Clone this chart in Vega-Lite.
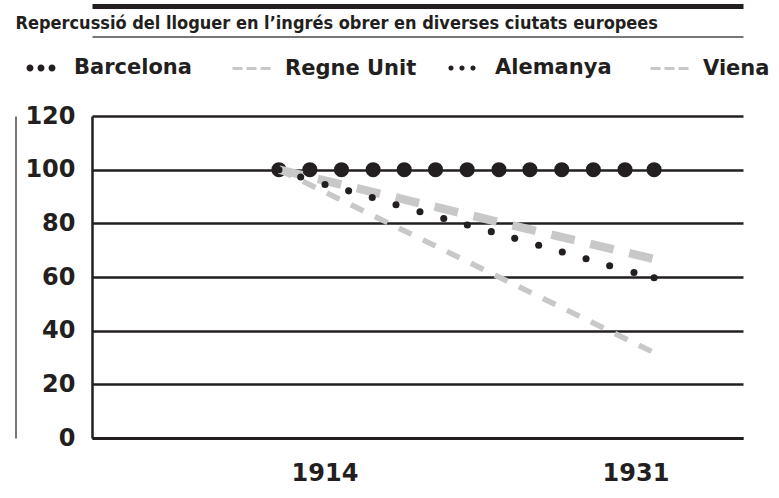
{
  "$schema": "https://vega.github.io/schema/vega-lite/v6.json",
  "width": 651,
  "height": 322,
  "autosize": {"type": "none"},
  "padding": {"left": 92, "top": 116, "right": 36, "bottom": 60},
  "background": "white",
  "title": {
    "text": "Repercussió del lloguer en l’ingrés obrer en diverses ciutats europees",
    "anchor": "start",
    "frame": "bounds",
    "font": "DejaVu Sans Condensed",
    "fontSize": 18,
    "fontWeight": "bold",
    "color": "#231f20",
    "offset": -27,
    "dx": 0
  },
  "config": {
    "view": {"stroke": null},
    "axis": {
      "labelFont": "DejaVu Sans",
      "labelFontWeight": "bold",
      "labelFontSize": 24,
      "labelColor": "#231f20",
      "domainColor": "#231f20",
      "ticks": false
    },
    "legend": {
      "orient": "none",
      "direction": "horizontal",
      "padding": 0,
      "symbolSize": 1600,
      "symbolOpacity": 1,
      "labelFont": "DejaVu Sans",
      "labelFontWeight": "bold",
      "labelFontSize": 21,
      "labelColor": "#231f20",
      "labelOffset": 12,
      "labelLimit": 300
    }
  },
  "resolve": {
    "scale": {"color": "independent"},
    "legend": {"color": "independent"},
    "axis": {"x": "independent", "y": "independent"}
  },
  "datasets": {
    "barcelona": [
      {"series": "Barcelona", "year": 1911.51, "value": 100},
      {"series": "Barcelona", "year": 1913.20, "value": 100},
      {"series": "Barcelona", "year": 1914.93, "value": 100},
      {"series": "Barcelona", "year": 1916.66, "value": 100},
      {"series": "Barcelona", "year": 1918.36, "value": 100},
      {"series": "Barcelona", "year": 1920.07, "value": 100},
      {"series": "Barcelona", "year": 1921.80, "value": 100},
      {"series": "Barcelona", "year": 1923.54, "value": 100},
      {"series": "Barcelona", "year": 1925.23, "value": 100},
      {"series": "Barcelona", "year": 1926.97, "value": 100},
      {"series": "Barcelona", "year": 1928.70, "value": 100},
      {"series": "Barcelona", "year": 1930.43, "value": 100},
      {"series": "Barcelona", "year": 1932.02, "value": 100}
    ],
    "regne": [
      {"series": "Regne Unit", "year": 1911.51, "value": 100},
      {"series": "Regne Unit", "year": 1931.96, "value": 66.8}
    ],
    "viena": [
      {"series": "Viena", "year": 1911.51, "value": 100},
      {"series": "Viena", "year": 1931.96, "value": 32}
    ],
    "alemanya": [
      {"series": "Alemanya", "year": 1911.51, "value": 100},
      {"series": "Alemanya", "year": 1912.70, "value": 97.3},
      {"series": "Alemanya", "year": 1914.03, "value": 94.5},
      {"series": "Alemanya", "year": 1915.32, "value": 92.1},
      {"series": "Alemanya", "year": 1916.61, "value": 89.6},
      {"series": "Alemanya", "year": 1917.91, "value": 86.9},
      {"series": "Alemanya", "year": 1919.22, "value": 84.3},
      {"series": "Alemanya", "year": 1920.52, "value": 81.8},
      {"series": "Alemanya", "year": 1921.81, "value": 79.4},
      {"series": "Alemanya", "year": 1923.12, "value": 76.9},
      {"series": "Alemanya", "year": 1924.40, "value": 74.4},
      {"series": "Alemanya", "year": 1925.71, "value": 71.8},
      {"series": "Alemanya", "year": 1927.00, "value": 69.3},
      {"series": "Alemanya", "year": 1928.30, "value": 66.8},
      {"series": "Alemanya", "year": 1929.59, "value": 64.2},
      {"series": "Alemanya", "year": 1930.92, "value": 61.7},
      {"series": "Alemanya", "year": 1932.02, "value": 59.7}
    ]
  },
  "layer": [
    {
      "data": {"name": "barcelona"},
      "mark": {"type": "circle", "size": 227, "opacity": 1},
      "encoding": {
        "x": {
          "field": "year",
          "type": "quantitative",
          "scale": {"domain": [1901.29, 1936.88], "nice": false, "zero": false},
          "axis": {
            "title": null,
            "values": [1914, 1931],
            "format": "d",
            "grid": false,
            "labelPadding": 23,
            "domainWidth": 3
          }
        },
        "y": {
          "field": "value",
          "type": "quantitative",
          "scale": {"domain": [0, 120], "nice": false},
          "axis": {
            "title": null,
            "values": [0, 20, 40, 60, 80, 100, 120],
            "grid": true,
            "gridColor": "#231f20",
            "gridWidth": 2.5,
            "gridOpacity": 1,
            "domainWidth": 2.5,
            "labelPadding": 17
          }
        },
        "color": {
          "field": "series",
          "type": "nominal",
          "scale": {"domain": ["Barcelona"], "range": ["#231f20"]},
          "legend": {
            "title": null,
            "legendX": -72,
            "legendY": -69,
            "symbolType": "M-0.725,0a0.175,0.175 0 1,0 0.35,0a0.175,0.175 0 1,0 -0.35,0Z M-0.175,0a0.175,0.175 0 1,0 0.35,0a0.175,0.175 0 1,0 -0.35,0Z M0.375,0a0.175,0.175 0 1,0 0.35,0a0.175,0.175 0 1,0 -0.35,0Z"
          }
        }
      }
    },
    {
      "data": {"name": "regne"},
      "mark": {"type": "line", "strokeWidth": 8.5, "strokeDash": [24, 16]},
      "encoding": {
        "x": {
          "field": "year",
          "type": "quantitative",
          "scale": {"domain": [1901.29, 1936.88], "nice": false, "zero": false},
          "axis": {
            "orient": "top",
            "title": null,
            "labels": false,
            "ticks": false,
            "grid": false,
            "domainWidth": 5,
            "offset": 110
          }
        },
        "y": {
          "field": "value",
          "type": "quantitative",
          "scale": {"domain": [0, 120], "nice": false},
          "axis": null
        },
        "color": {
          "field": "series",
          "type": "nominal",
          "scale": {"domain": ["Regne Unit"], "range": ["#c8c8c8"]},
          "legend": {
            "title": null,
            "legendX": 138,
            "legendY": -69,
            "symbolStrokeWidth": 3,
            "symbolDash": [],
            "symbolType": "M-0.95,0H-0.45M-0.25,0H0.25M0.45,0H0.95"
          }
        }
      }
    },
    {
      "data": {"name": "viena"},
      "mark": {"type": "line", "strokeWidth": 5.5, "strokeDash": [14, 12.7]},
      "encoding": {
        "x": {
          "field": "year",
          "type": "quantitative",
          "scale": {"domain": [1901.29, 1936.88], "nice": false, "zero": false},
          "axis": {
            "orient": "top",
            "title": null,
            "labels": false,
            "ticks": false,
            "grid": false,
            "domainWidth": 1.5,
            "domainColor": "#4a4a4a",
            "offset": 79.5
          }
        },
        "y": {
          "field": "value",
          "type": "quantitative",
          "scale": {"domain": [0, 120], "nice": false},
          "axis": {
            "orient": "left",
            "title": null,
            "labels": false,
            "ticks": false,
            "grid": false,
            "domainWidth": 1.5,
            "domainColor": "#4a4a4a",
            "offset": 76.5
          }
        },
        "color": {
          "field": "series",
          "type": "nominal",
          "scale": {"domain": ["Viena"], "range": ["#c8c8c8"]},
          "legend": {
            "title": null,
            "legendX": 556,
            "legendY": -69,
            "symbolStrokeWidth": 3,
            "symbolDash": [],
            "symbolType": "M-0.95,0H-0.45M-0.25,0H0.25M0.45,0H0.95"
          }
        }
      }
    },
    {
      "data": {"name": "alemanya"},
      "mark": {"type": "circle", "size": 50, "opacity": 1},
      "encoding": {
        "x": {
          "field": "year",
          "type": "quantitative",
          "scale": {"domain": [1901.29, 1936.88], "nice": false, "zero": false},
          "axis": null
        },
        "y": {
          "field": "value",
          "type": "quantitative",
          "scale": {"domain": [0, 120], "nice": false},
          "axis": null
        },
        "color": {
          "field": "series",
          "type": "nominal",
          "scale": {"domain": ["Alemanya"], "range": ["#231f20"]},
          "legend": {
            "title": null,
            "legendX": 349,
            "legendY": -69,
            "symbolType": "M-0.68,0a0.13,0.13 0 1,0 0.26,0a0.13,0.13 0 1,0 -0.26,0Z M-0.13,0a0.13,0.13 0 1,0 0.26,0a0.13,0.13 0 1,0 -0.26,0Z M0.42,0a0.13,0.13 0 1,0 0.26,0a0.13,0.13 0 1,0 -0.26,0Z"
          }
        }
      }
    }
  ]
}
